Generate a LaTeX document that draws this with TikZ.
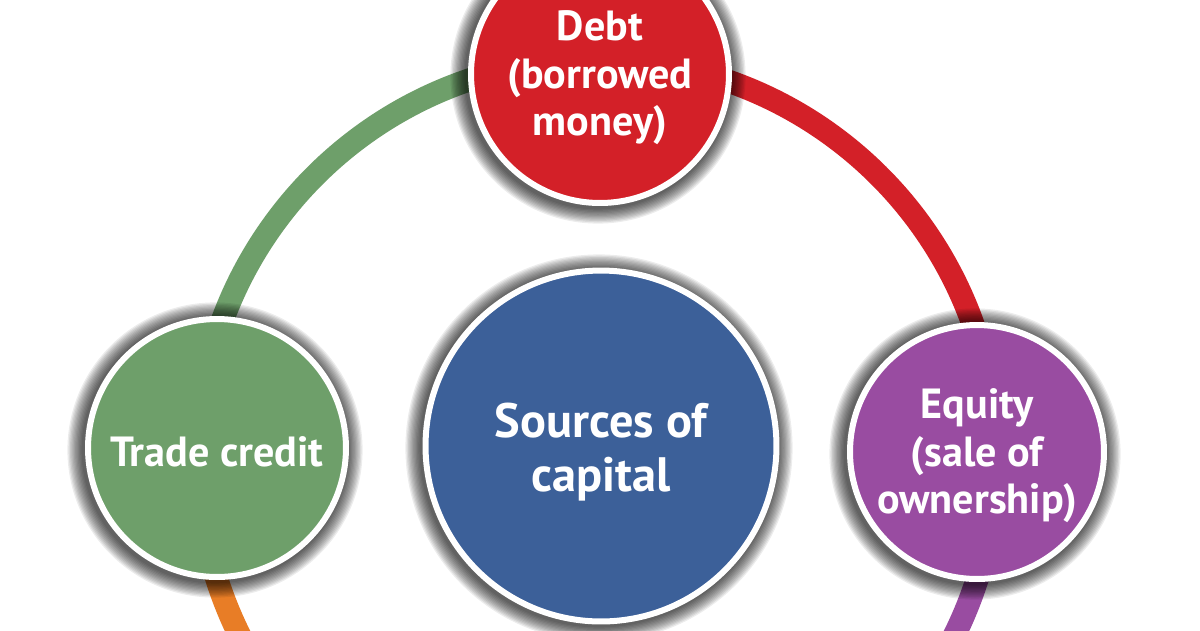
\documentclass[tikz,border=0pt]{standalone}
\usepackage{fontspec}
\setmainfont{PT Sans}
\definecolor{debtred}{RGB}{211,32,40}
\definecolor{tradegreen}{RGB}{110,159,106}
\definecolor{capblue}{RGB}{60,96,153}
\definecolor{eqpurple}{RGB}{153,76,161}
\definecolor{ringorange}{RGB}{232,125,38}
\tikzset{
  ringarc/.style={line width=0.46cm},
  bubble/.style={circle, draw=white, line width=0.12cm, inner sep=0pt},
  smalltext/.style={text=white, align=center, yshift=-0.08cm, font=\fontsize{24}{27}\selectfont\bfseries},
  bigtext/.style={text=white, align=center, yshift=-0.12cm, font=\fontsize{27.5}{31}\selectfont\bfseries},
  shadelayer/.style={black, opacity=0.075}
}
\newcommand\dropshade[2]{%
  \foreach \k in {1,...,12}{\fill[shadelayer] ([shift={(-2,2)}]#1) circle[radius={#2+1.3*\k}];}}
\begin{document}
\begin{tikzpicture}[x=0.02cm,y=-0.02cm]
\useasboundingbox (0,0) rectangle (1200,630);
\clip (0,0) rectangle (1200,630);
\fill[white] (0,0) rectangle (1200,630);
% centres
\coordinate (hub) at (597,458);
\coordinate (debtc) at (600,74);
\coordinate (tradec) at (217,448);
\coordinate (eqc) at (977,452);
\coordinate (capc) at (601,446);
% ring arcs
\draw[ringarc, draw=tradegreen] ([shift={(181.5:399)}]hub) arc[start angle=181.5, end angle=270.4, radius=399];
\draw[ringarc, draw=debtred] ([shift={(270.4:399)}]hub) arc[start angle=270.4, end angle=359.1, radius=399];
\draw[ringarc, draw=eqpurple] ([shift={(359.1:399)}]hub) arc[start angle=359.1, end angle=450, radius=399];
\draw[ringarc, draw=ringorange] ([shift={(181.5:399)}]hub) arc[start angle=181.5, end angle=90, radius=399];
% shadows
\dropshade{debtc}{132}
\dropshade{tradec}{132}
\dropshade{eqc}{130}
\dropshade{capc}{178}
% circles
\node[bubble, fill=debtred, minimum size=5.16cm,
  label={[smalltext]center:{Debt\\(borrowed\\money)}}] (debt) at (debtc) {};
\node[bubble, fill=tradegreen, minimum size=5.16cm,
  label={[smalltext]center:{Trade credit}}] (trade) at (tradec) {};
\node[bubble, fill=eqpurple, minimum size=5.08cm,
  label={[smalltext]center:{Equity\\(sale of\\ownership)}}] (equity) at (eqc) {};
\node[bubble, fill=capblue, minimum size=7.02cm,
  label={[bigtext]center:{Sources of\\capital}}] (capital) at (capc) {};
\end{tikzpicture}
\end{document}
